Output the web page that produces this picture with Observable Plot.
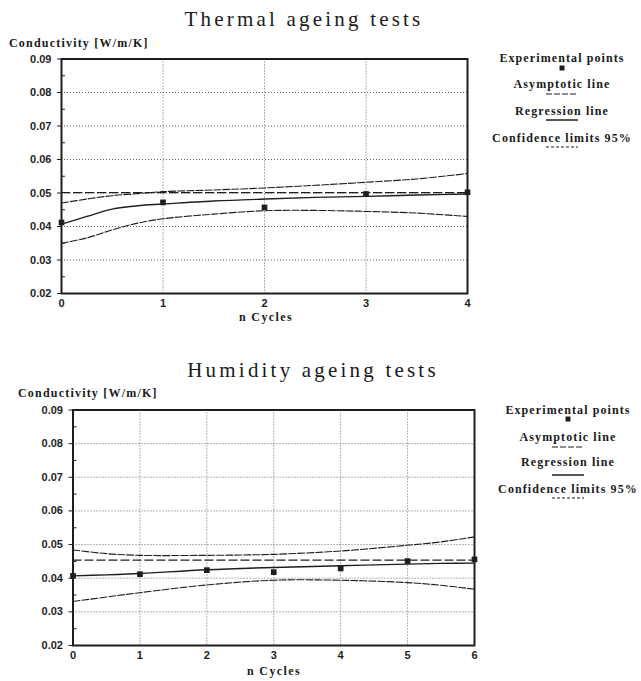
<!DOCTYPE html>
<html>
<head>
<meta charset="utf-8">
<script src="https://cdn.jsdelivr.net/npm/d3@7"></script>
<script src="https://cdn.jsdelivr.net/npm/@observablehq/plot@0.6"></script>
<style>
  html, body { margin: 0; padding: 0; background: #fff; }
  #root { position: relative; width: 641px; height: 681px; overflow: hidden; background: #fff; }
  .abs { position: absolute; transform: translate(-50%, -50%); white-space: nowrap; color: #1a1a1a; }
  .title { font-family: "Liberation Serif", serif; font-size: 21px; letter-spacing: 3.2px; }
  .ylab { font-family: "Liberation Serif", serif; font-weight: bold; font-size: 12px; letter-spacing: 1.2px; transform: translate(0, -50%); }
  .xlab { font-family: "Liberation Serif", serif; font-weight: bold; font-size: 12px; letter-spacing: 1.4px; }
  .leg { font-family: "Liberation Serif", serif; font-weight: bold; font-size: 12px; letter-spacing: 1.1px; }
  .plot { position: absolute; left: 0; }
</style>
</head>
<body>
<div id="root"></div>
<script>
// ---------- data ----------
const yTicks = [0.02, 0.03, 0.04, 0.05, 0.06, 0.07, 0.08, 0.09];
const yMinor = [0.025, 0.035, 0.045, 0.055, 0.065, 0.075, 0.085];

// Thermal ageing tests
const thermalCycles = [0, 1, 2, 3, 4];
const thermalPoints = [0.0412, 0.0472, 0.0457, 0.0497, 0.0502];
const thermalAsymptote = 0.0501;
const thermalCurveX = [0, 0.25, 0.5, 0.75, 1, 1.5, 2, 2.5, 3, 3.5, 4];
const thermalRegression = [0.0407, 0.0430, 0.0452, 0.0462, 0.0467, 0.0476, 0.0482, 0.0487, 0.0490, 0.0494, 0.0497];
const thermalUpper = [0.0470, 0.0482, 0.0492, 0.0498, 0.0504, 0.0509, 0.0515, 0.0523, 0.0532, 0.0542, 0.0558];
const thermalLower = [0.0350, 0.0366, 0.0390, 0.0410, 0.0423, 0.0437, 0.0447, 0.0448, 0.0445, 0.0440, 0.0430];

// Humidity ageing tests
const humidityCycles = [0, 1, 2, 3, 4, 5, 6];
const humidityPoints = [0.0407, 0.0412, 0.0424, 0.0418, 0.0429, 0.0451, 0.0456];
const humidityAsymptote = 0.0454;
const humidityCurveX = [0, 0.5, 1, 2, 3, 4, 5, 5.5, 6];
const humidityRegression = [0.0407, 0.0410, 0.0414, 0.0425, 0.0432, 0.0437, 0.0442, 0.0444, 0.0445];
const humidityUpper = [0.0484, 0.0473, 0.0468, 0.0468, 0.0471, 0.0481, 0.0498, 0.0508, 0.0523];
const humidityLower = [0.0331, 0.0344, 0.0357, 0.0380, 0.0394, 0.0394, 0.0387, 0.0379, 0.0367];

const legendItems = ["Experimental points", "Asymptotic line", "Regression line", "Confidence limits 95%"];

// ---------- helpers ----------
const INK = "#1e1e1e";
const DASH_ASYM = "9,3";
const DASH_CONF = "7,2";

function rows(xs, ys) { return xs.map((x, i) => ({x, y: ys[i]})); }

function makeChart(o) {
  const reg = rows(o.curveX, o.regression);
  const up = rows(o.curveX, o.upper);
  const lo = rows(o.curveX, o.lower);
  const pts = rows(o.cycles, o.points);
  return Plot.plot({
    width: 641,
    height: o.height,
    marginTop: o.mt, marginBottom: o.mb, marginLeft: o.ml, marginRight: o.mr,
    style: {fontFamily: "'Liberation Sans', sans-serif", fontSize: "11px", color: INK, background: "white"},
    x: {domain: [0, o.cycles[o.cycles.length - 1]]},
    y: {domain: [0.02, 0.09]},
    marks: [
      Plot.gridY(yTicks.slice(1, -1), {stroke: "#555", strokeOpacity: 0.9, strokeDasharray: "1,2"}),
      Plot.gridX(o.cycles.slice(1, -1), {stroke: "#555", strokeOpacity: 0.9, strokeDasharray: "1,2"}),
      Plot.axisY({ticks: yTicks, tickFormat: d3.format(".2f"), tickSize: 4, tickPadding: 6, label: null, fontSize: 11, fontWeight: "bold", fill: INK}),
      Plot.axisY({ticks: yMinor, tickSize: -4, text: null, label: null, stroke: INK}),
      Plot.axisX({ticks: o.cycles, tickFormat: d3.format("d"), tickSize: 0, tickPadding: 6, label: null, fontSize: 11, fontWeight: "bold", fill: INK}),
      Plot.ruleY([o.asymptote], {stroke: INK, strokeWidth: 1.3, strokeDasharray: DASH_ASYM}),
      Plot.line(up, {x: "x", y: "y", curve: "catmull-rom", stroke: INK, strokeWidth: 1.1, strokeDasharray: DASH_CONF}),
      Plot.line(lo, {x: "x", y: "y", curve: "catmull-rom", stroke: INK, strokeWidth: 1.1, strokeDasharray: DASH_CONF}),
      Plot.line(reg, {x: "x", y: "y", curve: "catmull-rom", stroke: INK, strokeWidth: 1.4}),
      Plot.dot(pts, {x: "x", y: "y", symbol: "square", r: 3.2, fill: INK, stroke: "none"}),
      Plot.frame({stroke: INK, strokeWidth: 2})
    ]
  });
}

function addText(cls, text, x, y) {
  const d = document.createElement("div");
  d.className = "abs " + cls;
  d.textContent = text;
  d.style.left = x + "px";
  d.style.top = y + "px";
  root.appendChild(d);
  return d;
}

function legendSymbol(kind, cx, cy) {
  const ns = "http://www.w3.org/2000/svg";
  const svg = document.createElementNS(ns, "svg");
  svg.setAttribute("width", 40);
  svg.setAttribute("height", 8);
  svg.style.position = "absolute";
  svg.style.left = (cx - 20) + "px";
  svg.style.top = (cy - 4) + "px";
  if (kind === 0) {
    const r = document.createElementNS(ns, "rect");
    r.setAttribute("x", 17.5); r.setAttribute("y", 1.5); r.setAttribute("width", 5); r.setAttribute("height", 5);
    r.setAttribute("fill", INK);
    svg.appendChild(r);
  } else {
    const l = document.createElementNS(ns, "line");
    l.setAttribute("x1", 4); l.setAttribute("x2", 36); l.setAttribute("y1", 4); l.setAttribute("y2", 4);
    l.setAttribute("stroke", INK);
    l.setAttribute("stroke-width", kind === 2 ? 1.5 : 1.2);
    if (kind === 1) l.setAttribute("stroke-dasharray", "6,2");
    if (kind === 3) l.setAttribute("stroke-dasharray", "3,2");
    svg.appendChild(l);
  }
  root.appendChild(svg);
}

function addLegend(cx, textYs, symYs) {
  legendItems.forEach((t, i) => {
    addText("leg", t, cx, textYs[i]);
    legendSymbol(i, cx, symYs[i]);
  });
}

const root = document.getElementById("root");

// ---------- top chart ----------
const top1 = makeChart({
  height: 323, mt: 58.5, mb: 30, ml: 61, mr: 174,
  cycles: thermalCycles, points: thermalPoints, asymptote: thermalAsymptote,
  curveX: thermalCurveX, regression: thermalRegression, upper: thermalUpper, lower: thermalLower
});
top1.classList.add("plot");
top1.style.top = "0px";
root.appendChild(top1);
addText("title", "Thermal ageing tests", 304, 19);
addText("ylab", "Conductivity [W/m/K]", 9, 43);
addText("xlab", "n  Cycles", 266, 317);
addLegend(562, [57.5, 84.3, 111, 138.3], [67.7, 93.5, 120, 147.3]);

// ---------- bottom chart ----------
const bot = makeChart({
  height: 351, mt: 79.5, mb: 36, ml: 72.5, mr: 167,
  cycles: humidityCycles, points: humidityPoints, asymptote: humidityAsymptote,
  curveX: humidityCurveX, regression: humidityRegression, upper: humidityUpper, lower: humidityLower
});
bot.classList.add("plot");
bot.style.top = "330px";
root.appendChild(bot);
addText("title", "Humidity ageing tests", 313, 370);
addText("ylab", "Conductivity [W/m/K]", 18, 393);
addText("xlab", "n  Cycles", 274, 671);
addLegend(568, [410, 437.3, 461.7, 489.3], [419.3, 446.7, 475, 498.3]);
</script>
</body>
</html>
